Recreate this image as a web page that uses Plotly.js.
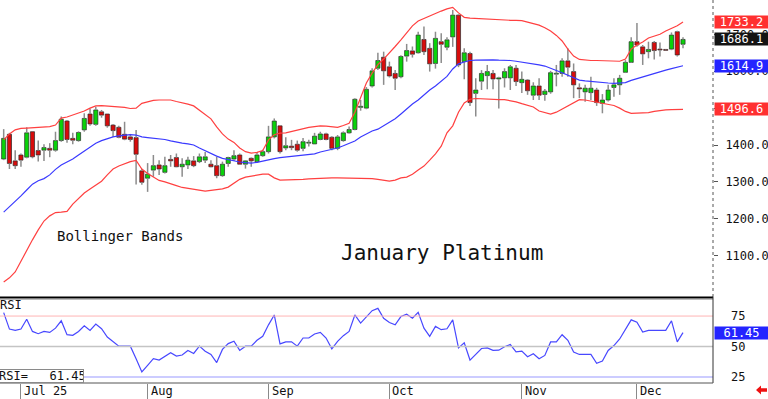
<!DOCTYPE html>
<html><head><meta charset="utf-8">
<script src="https://cdn.plot.ly/plotly-3.0.1.min.js"></script>
<style>html,body{margin:0;padding:0;background:#fff;overflow:hidden}#chart{width:768px;height:399px}</style>
</head><body><div id="chart"></div>
<script>
// ---- data (trading-day index 0..118, late Jun 2025 .. mid Dec 2025) ----
const openP=[1362,1429,1357,1373,1367,1436,1385,1386,1391,1386,
1412,1465,1418,1412,1441,1484,1456,1490,1484,1454,
1448,1429,1422,1420,1330,1310,1332,1346,1326,1361,
1366,1341,1346,1357,1355,1359,1348,1344,1317,1350,
1362,1373,1348,1364,1355,1371,1382,1422,1452,1392,
1397,1402,1391,1405,1403,1415,1430,1421,1391,1412,
1433,1442,1502,1500,1560,1608,1638,1612,1594,1585,
1641,1655,1650,1686,1662,1621,1680,1665,1693,1752,
1626,1648,1540,1573,1588,1594,1579,1582,1582,1608,
1569,1576,1535,1560,1537,1544,1592,1594,1628,1599,
1555,1544,1542,1549,1513,1522,1556,1563,1597,1624,
1680,1666,1653,1678,1660,1659,1660,1707,1673];
const highP=[1443,1433,1386,1377,1448,1436,1412,1402,1405,1436,
1477,1468,1433,1437,1486,1499,1504,1495,1484,1457,
1452,1463,1430,1441,1335,1351,1373,1359,1368,1373,
1377,1364,1368,1370,1377,1381,1359,1368,1355,1368,
1386,1377,1359,1366,1381,1387,1452,1472,1452,1421,
1414,1412,1419,1414,1433,1436,1433,1424,1427,1437,
1450,1527,1522,1557,1608,1650,1653,1626,1603,1643,
1674,1667,1707,1721,1676,1707,1703,1692,1766,1754,
1662,1653,1581,1603,1617,1603,1585,1608,1617,1617,
1599,1578,1570,1581,1552,1601,1617,1635,1662,1621,
1567,1563,1585,1555,1538,1563,1581,1590,1630,1692,
1731,1671,1680,1682,1678,1660,1705,1710,1692];
const lowP=[1359,1335,1335,1341,1364,1364,1355,1357,1367,1382,
1409,1406,1402,1409,1436,1452,1452,1474,1447,1422,
1418,1413,1409,1293,1292,1273,1314,1319,1323,1341,
1340,1314,1335,1340,1351,1351,1340,1310,1314,1341,
1357,1346,1336,1341,1351,1368,1377,1418,1377,1386,
1386,1382,1383,1396,1403,1413,1413,1386,1386,1409,
1431,1440,1493,1497,1556,1603,1563,1583,1549,1581,
1626,1637,1648,1644,1599,1607,1622,1657,1666,1611,
1578,1506,1477,1549,1551,1551,1499,1556,1549,1560,
1541,1536,1522,1522,1520,1539,1559,1585,1585,1527,
1527,1517,1522,1506,1486,1518,1531,1536,1595,1622,
1666,1617,1635,1632,1640,1657,1657,1640,1662];
const closeP=[1418,1350,1344,1359,1433,1368,1373,1393,1386,1412,
1470,1415,1413,1434,1472,1457,1495,1481,1452,1439,
1421,1416,1415,1375,1299,1321,1344,1335,1344,1357,
1341,1348,1359,1344,1368,1368,1341,1317,1348,1366,
1371,1348,1357,1357,1373,1382,1422,1465,1382,1398,
1393,1386,1409,1407,1424,1430,1415,1391,1422,1433,
1442,1524,1505,1551,1601,1629,1601,1587,1581,1640,
1656,1646,1698,1653,1620,1689,1673,1685,1752,1617,
1650,1515,1549,1594,1599,1579,1582,1599,1612,1572,
1578,1547,1560,1535,1546,1596,1594,1628,1611,1563,
1552,1554,1554,1515,1522,1549,1563,1581,1624,1680,
1671,1647,1659,1656,1658,1658,1698,1644,1686.1];
const bbUpper=[1414,1430,1441,1445,1446,1447,1448,1449,1450,1454,
1473,1476,1481,1487,1492,1500,1506,1507,1506,1504,
1503,1502,1499,1500,1513,1518,1521,1522,1523,1522,
1518,1515,1511,1506,1495,1484,1471,1449,1430,1416,
1407,1392,1382,1378,1380,1385,1414,1428,1432,1433,
1437,1441,1445,1448,1450,1452,1451,1450,1448,1453,
1459,1489,1530,1568,1595,1618,1633,1649,1667,1685,
1704,1723,1736,1743,1750,1758,1763,1769,1773,1758,
1746,1744,1743,1741,1740,1739,1739,1738,1738,1738,
1737,1733,1729,1725,1718,1709,1697,1682,1660,1641,
1632,1630,1629,1629,1628,1628,1628,1627,1633,1660,
1671,1679,1690,1695,1700,1709,1716,1723,1733.2];
const bbMid=[1218,1232,1248,1262,1278,1294,1303,1309,1319,1334,
1346,1353,1362,1373,1384,1396,1405,1412,1418,1422,
1425,1427,1428,1427,1422,1420,1419,1418,1415,1411,
1407,1405,1403,1400,1392,1384,1377,1370,1364,1360,
1357,1354,1352,1351,1353,1357,1361,1363,1366,1368,
1370,1371,1373,1375,1376,1381,1384,1387,1392,1398,
1404,1411,1422,1430,1438,1443,1452,1460,1471,1484,
1498,1511,1522,1536,1549,1560,1573,1586,1606,1620,
1625,1629,1630,1631,1632,1631,1630,1630,1629,1627,
1625,1622,1620,1617,1614,1609,1602,1596,1590,1582,
1576,1574,1572,1571,1569,1568,1567,1567,1569,1575,
1580,1584,1590,1595,1599,1603,1607,1611,1614.9];
const bbLower=[1029,1040,1056,1086,1116,1143,1170,1194,1208,1217,
1218,1220,1240,1256,1270,1281,1292,1302,1319,1335,
1343,1349,1355,1358,1335,1323,1313,1304,1300,1296,
1290,1285,1282,1279,1277,1275,1277,1278,1281,1286,
1296,1307,1313,1316,1319,1321,1321,1311,1305,1305,
1305,1305,1307,1308,1309,1311,1311,1311,1311,1311,
1311,1311,1311,1311,1309,1307,1304,1302,1305,1311,
1313,1321,1332,1343,1359,1376,1397,1433,1452,1489,
1514,1524,1526,1525,1523,1522,1523,1523,1521,1517,
1512,1508,1503,1492,1487,1484,1489,1498,1506,1515,
1523,1522,1519,1517,1514,1510,1507,1500,1491,1486,
1486,1486,1488,1491,1494,1495,1496,1496,1496.6];
const rsi=[77.8,64.3,63.2,64.3,72.4,62.4,60.5,62.4,61.6,65.1,
71.1,59.7,59.2,62.4,67.0,63.2,68.4,64.6,57.8,53.8,
50.3,50.3,50.3,40.0,29.2,34.6,40.0,38.9,41.6,44.9,
42.2,43.0,46.8,44.3,50.3,46.2,43.5,36.8,47.6,52.4,
54.3,46.8,50.3,50.3,55.1,58.4,67.8,75.9,52.2,53.8,
53.8,50.3,57.0,57.0,60.3,61.6,57.0,48.1,54.3,58.9,
62.4,75.9,69.2,74.6,79.4,81.3,73.2,69.7,67.8,74.6,
76.5,73.2,78.1,65.1,58.4,66.5,63.8,64.6,71.9,48.9,
53.0,38.9,43.5,48.4,48.9,46.8,47.0,49.8,51.6,45.7,
46.2,41.6,44.1,40.0,42.7,53.8,53.8,59.7,55.1,45.4,
43.5,43.5,43.5,36.2,38.1,46.8,50.8,56.2,64.3,71.9,
70.0,61.9,63.2,63.2,63.2,63.2,71.1,53.8,61.45];
const monthStart=[3,25,46,67,90,110];
const monthLabels=['Jul 25','Aug','Sep','Oct','Nov','Dec'];
const priceTicks=[1100,1200,1300,1400,1500,1600,1700];
const rsiTicks=[25,50,75];
const chartTitle='January Platinum';
const bandLabel='Bollinger Bands';
const rsiName='RSI';

// ---- build ----
const MONO='DejaVu Sans Mono, monospace';
const n=closeP.length;
const idx=closeP.map((_,i)=>i);
const wx=[],wy=[];
for(let i=0;i<n;i++){
  const top=Math.max(openP[i],closeP[i]), bot=Math.min(openP[i],closeP[i]);
  wx.push(i,i,null,i,i,null);
  wy.push(highP[i],top,null,bot,lowP[i],null);
}
const minBody=2.5;
const bodyH=idx.map(i=>{const d=closeP[i]-openP[i];return Math.abs(d)<minBody?(d<0?-minBody:minBody):d;});
const bodyCol=idx.map(i=>closeP[i]>=openP[i]?'#0ad20a':'#d80c0c');

const data=[
 {type:'scatter',mode:'lines',x:wx,y:wy,line:{color:'#8c8c8c',width:1.5},hoverinfo:'skip'},
 {type:'bar',x:idx,y:bodyH,base:openP,width:0.72,marker:{color:bodyCol,line:{color:'#2a2a2a',width:0.7}},hoverinfo:'skip'},
 {type:'scatter',mode:'lines',x:idx,y:bbUpper,line:{color:'#ff4040',width:1.2}},
 {type:'scatter',mode:'lines',x:idx,y:bbLower,line:{color:'#ff4040',width:1.2}},
 {type:'scatter',mode:'lines',x:idx,y:bbMid,line:{color:'#3a3aff',width:1.2}},
 {type:'scatter',mode:'lines',x:idx,y:rsi,yaxis:'y2',line:{color:'#4848ff',width:1.2}}
];

const PW=713, PH=383;
const px=(x)=>x/PW, py=(y)=>(PH-y)/PH;
const priceDomBottom=py(297);
const rsiDomTop=py(298.5);
const last=n-1;

function valBox(v,yref,bg,dec){
  return {xref:'paper',x:1,xanchor:'left',xshift:1,yref:yref,y:v,yanchor:'middle',
    text:v.toFixed(dec),showarrow:false,bgcolor:bg,font:{family:MONO,size:12,color:'#ffffff'},
    width:53,height:12,borderpad:0,align:'center'};
}

const annotations=[
 {xref:'paper',yref:'paper',x:px(55),y:py(236),xanchor:'left',yanchor:'middle',text:bandLabel,showarrow:false,font:{family:MONO,size:14,color:'#111'}},
 {xref:'paper',yref:'paper',x:px(339),y:py(253.5),xanchor:'left',yanchor:'middle',text:chartTitle,showarrow:false,font:{family:MONO,size:21,color:'#111'}},
 {xref:'paper',yref:'paper',x:0,y:py(305),xanchor:'left',yanchor:'middle',xshift:-2,text:rsiName,showarrow:false,font:{family:MONO,size:12,color:'#111'}},
 {xref:'paper',yref:'paper',x:0,y:py(375.5),xanchor:'left',yanchor:'middle',xshift:-2,text:rsiName+'=\u00a0\u00a0\u00a0'+rsi[last].toFixed(2),showarrow:false,
   bgcolor:'#ffffff',bordercolor:'#8a8a8a',borderwidth:1,borderpad:0,height:12,width:84,align:'left',font:{family:MONO,size:12,color:'#111'}},
 valBox(bbUpper[last],'y','#ff3030',1),
 valBox(closeP[last],'y','#141414',1),
 valBox(bbMid[last],'y','#2424ff',1),
 valBox(bbLower[last],'y','#ff3030',1),
 valBox(rsi[last],'y2','#2424ff',2)
];
monthStart.forEach((m,k)=>annotations.push({xref:'x',x:m,xanchor:'left',xshift:1,yref:'paper',y:py(391),yanchor:'middle',
  text:monthLabels[k],showarrow:false,font:{family:MONO,size:12,color:'#111'}}));

const shapes=[
 {type:'line',xref:'paper',yref:'paper',x0:1,x1:1,y0:priceDomBottom,y1:1,line:{color:'#555',width:1,dash:'dot'}},
 {type:'line',xref:'paper',yref:'y2',x0:0,x1:1,y0:75,y1:75,line:{color:'#ffb4b4',width:1}},
 {type:'line',xref:'paper',yref:'y2',x0:0,x1:1,y0:50,y1:50,line:{color:'#c4c4c4',width:1.5}},
 {type:'line',xref:'paper',yref:'y2',x0:0,x1:1,y0:25,y1:25,line:{color:'#ccccff',width:2}},
 {type:'line',xref:'paper',yref:'paper',x0:0,x1:1,y0:py(297.5),y1:py(297.5),line:{color:'#000',width:2}},
 {type:'line',xref:'paper',yref:'paper',x0:0,x1:1,y0:py(299.5),y1:py(299.5),line:{color:'#bdbdbd',width:1}},
 {type:'line',xref:'paper',yref:'paper',x0:1,x1:1,y0:0,y1:py(297),line:{color:'#333',width:1}},
 {type:'line',xref:'paper',yref:'paper',x0:0,x1:1,y0:0,y1:0,line:{color:'#555',width:1}},
 {type:'path',xref:'paper',yref:'paper',fillcolor:'#ee1111',line:{width:0},
  path:`M${px(756)},${py(390)} L${px(761)},${py(385.5)} L${px(761)},${py(388.3)} L${px(767)},${py(388.3)} L${px(767)},${py(391.7)} L${px(761)},${py(391.7)} L${px(761)},${py(394.5)} Z`}
];

const layout={
 width:768,height:399,margin:{l:0,r:55,t:0,b:16,pad:0},
 paper_bgcolor:'#fff',plot_bgcolor:'#fff',showlegend:false,bargap:0,
 xaxis:{range:[-0.64,-0.64+PW/5.757],anchor:'y2',tickvals:monthStart,ticktext:monthStart.map(()=>''),
   ticks:'outside',ticklen:16,tickcolor:'#8a8a8a',tickwidth:1,showgrid:false,zeroline:false,showline:false},
 yaxis:{domain:[priceDomBottom,1],range:[988.1,1793],anchor:'x',side:'right',tickvals:priceTicks,
   ticktext:priceTicks.map(v=>v.toFixed(1)),ticks:'outside',ticklen:4,tickcolor:'#555',ticklabelstandoff:5,
   showgrid:false,zeroline:false,showline:false,tickfont:{family:MONO,size:12,color:'#111'}},
 yaxis2:{domain:[0,rsiDomTop],range:[20.07,89.4],anchor:'x',side:'right',tickvals:rsiTicks,
   ticktext:rsiTicks.map(String),ticks:'',ticklabelstandoff:17,showgrid:false,zeroline:false,showline:false,
   tickfont:{family:MONO,size:12,color:'#111'}},
 annotations:annotations,shapes:shapes
};
Plotly.newPlot('chart',data,layout,{staticPlot:true,displayModeBar:false});
</script></body></html>
